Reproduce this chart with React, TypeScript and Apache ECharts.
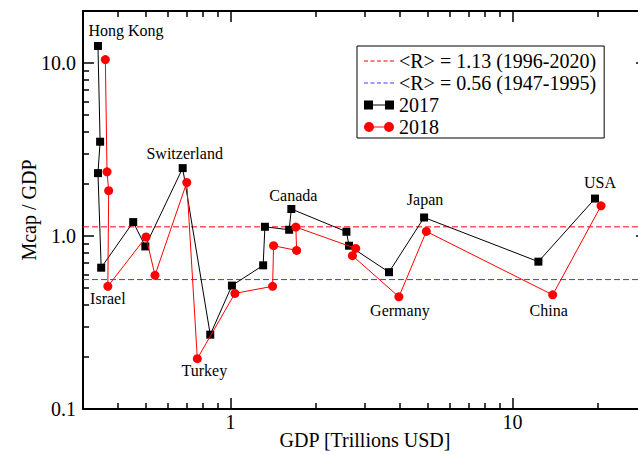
import React, { useEffect, useRef } from 'react';
import * as echarts from 'echarts';

// Countries in plotting order (only the annotated ones carry a name on the chart)
const countries = [
  'Hong Kong', '', '', 'Israel', '', '', 'Switzerland', 'Turkey', '', '', '',
  '', 'Canada', '', '', 'Germany', 'Japan', 'China', 'USA',
];

// GDP in trillions of USD and stock-market capitalisation / GDP
const gdp2017 = [0.339, 0.345, 0.339, 0.348, 0.452, 0.499, 0.677, 0.848, 1.012, 1.306, 1.325, 1.615, 1.644, 2.578, 2.633, 3.649, 4.86, 12.36, 19.62];
const ratio2017 = [12.55, 3.51, 2.31, 0.656, 1.204, 0.871, 2.47, 0.269, 0.517, 0.677, 1.131, 1.087, 1.433, 1.059, 0.879, 0.618, 1.28, 0.711, 1.647];
const gdp2018 = [0.36, 0.365, 0.37, 0.3675, 0.502, 0.54, 0.7, 0.763, 1.037, 1.411, 1.422, 1.716, 1.706, 2.781, 2.707, 3.956, 4.949, 13.89, 20.61];
const ratio2018 = [10.48, 2.35, 1.83, 0.512, 0.987, 0.593, 2.04, 0.1955, 0.466, 0.512, 0.879, 0.826, 1.127, 0.848, 0.77, 0.445, 1.063, 0.457, 1.495];

// Long-run averages of the ratio
const meanRecent = 1.13;
const meanEarly = 0.56;

const seriesNames = ['<R> = 1.13 (1996-2020)', '<R> = 0.56 (1947-1995)', '2017', '2018'];

// Axis ranges and tick marks
const xRange = [0.3, 30];
const yRange = [0.1, 20];
const xMajorTicks = [1, 10];
const xMinorTicks = [0.4, 0.5, 0.6, 0.7, 0.8, 0.9, 2, 3, 4, 5, 6, 7, 8, 9, 20];
const yMajorTicks = [0.1, 1, 10];
const yMinorTicks = [0.2, 0.3, 0.4, 0.5, 0.6, 0.7, 0.8, 0.9, 2, 3, 4, 5, 6, 7, 8, 9];

// Where each country annotation sits relative to its marker
const labelPlacement: Record<string, { year: string; offset: [number, number] }> = {
  'Hong Kong': { year: '2017', offset: [28, -16] },
  Switzerland: { year: '2017', offset: [2, -15] },
  Canada: { year: '2017', offset: [2, -14] },
  Japan: { year: '2017', offset: [1, -18] },
  USA: { year: '2017', offset: [5, -16] },
  Israel: { year: '2018', offset: [0, 12] },
  Turkey: { year: '2018', offset: [7, 12] },
  Germany: { year: '2018', offset: [1, 14] },
  China: { year: '2018', offset: [-4, 16] },
};

const FONT = 'Liberation Serif';

// Legend glyphs: dashed line, and line with a marker at each end
const dashIcon = 'path://M0,0h4v1h-4z M6.5,0h4v1h-4z M13,0h4v1h-4z M19.5,0h4v1h-4z M26,0h4v1h-4z';
const squaresIcon = 'path://M0,0.5h9v9h-9z M9,4.5h12v1h-12z M21,0.5h9v9h-9z';
const circlesIcon =
  'path://M0,5a5,5 0 1,0 10,0a5,5 0 1,0 -10,0z M10,4.5h10v1h-10z M20,5a5,5 0 1,0 10,0a5,5 0 1,0 -10,0z';

function buildPoints(gdp: number[], ratio: number[], year: string) {
  return gdp.map((g, i) => {
    const name = countries[i];
    const place = name ? labelPlacement[name] : undefined;
    const item: any = { value: [g, ratio[i]] };
    if (place && place.year === year) {
      item.label = {
        show: true,
        position: 'inside',
        offset: place.offset,
        formatter: name,
        color: '#000',
        fontSize: 16,
        fontFamily: FONT,
      };
    }
    return item;
  });
}

function isPowerOfTen(v: number) {
  const l = Math.log10(v);
  return Math.abs(l - Math.round(l)) < 1e-6;
}

// Linear helper axes in log10 space that only draw tick marks
function tickAxis(
  position: string,
  range: number[],
  ticks: number[],
  length: number,
  showLine: boolean
) {
  return {
    type: 'value',
    position,
    min: Math.log10(range[0]),
    max: Math.log10(range[1]),
    axisLine: { show: showLine, onZero: false, lineStyle: { color: '#000', width: 2 } },
    axisLabel: { show: false },
    splitLine: { show: false },
    axisTick: {
      show: true,
      inside: true,
      length,
      customValues: ticks.map((t) => Math.log10(t)),
      lineStyle: { color: '#000', width: 1.5 },
    },
  };
}

export default function App() {
  const ref = useRef<HTMLDivElement>(null);

  useEffect(() => {
    if (!ref.current) return;
    const chart = echarts.init(ref.current, null, { renderer: 'svg' });

    const option: any = {
      animation: false,
      backgroundColor: '#fff',
      textStyle: { fontFamily: FONT },
      grid: {
        left: 83,
        right: -9,
        top: 11,
        bottom: 45,
        containLabel: false,
        outerBoundsMode: 'none',
      },
      legend: {
        left: 357,
        top: 46,
        orient: 'vertical',
        selectedMode: false,
        borderColor: '#000',
        borderWidth: 1,
        borderRadius: 0,
        padding: [5, 8, 1, 7],
        itemGap: 2,
        itemWidth: 30,
        itemHeight: 10,
        textStyle: { fontSize: 20, color: '#000', fontFamily: FONT, lineHeight: 20 },
        data: [
          { name: seriesNames[0], icon: dashIcon },
          { name: seriesNames[1], icon: dashIcon },
          { name: seriesNames[2], icon: squaresIcon },
          { name: seriesNames[3], icon: circlesIcon },
        ],
      },
      xAxis: [
        {
          type: 'log',
          logBase: 10,
          min: xRange[0],
          max: xRange[1],
          position: 'bottom',
          axisLine: { show: true, onZero: false, lineStyle: { color: '#000', width: 2 } },
          axisTick: { show: false },
          splitLine: { show: false },
          axisLabel: {
            formatter: (v: number) => (isPowerOfTen(v) ? String(Math.round(v)) : ''),
            fontSize: 20,
            color: '#000',
            fontFamily: FONT,
            margin: 3,
          },
          name: 'GDP [Trillions USD]',
          nameLocation: 'middle',
          nameGap: 21,
          nameMoveOverlap: false,
          nameTextStyle: { fontSize: 20, color: '#000', fontFamily: FONT },
        },
        tickAxis('bottom', xRange, xMajorTicks, 11, false),
        tickAxis('bottom', xRange, xMinorTicks, 6, false),
        tickAxis('top', xRange, xMajorTicks, 11, true),
        tickAxis('top', xRange, xMinorTicks, 6, false),
      ],
      yAxis: [
        {
          type: 'log',
          logBase: 10,
          min: yRange[0],
          max: yRange[1],
          position: 'left',
          axisLine: { show: true, onZero: false, lineStyle: { color: '#000', width: 2 } },
          axisTick: { show: false },
          splitLine: { show: false },
          axisLabel: {
            formatter: (v: number) => (isPowerOfTen(v) ? v.toFixed(1) : ''),
            fontSize: 20,
            color: '#000',
            fontFamily: FONT,
            margin: 7,
          },
          name: 'Mcap / GDP',
          nameLocation: 'middle',
          nameGap: 44,
          nameMoveOverlap: false,
          nameTextStyle: { fontSize: 20, color: '#000', fontFamily: FONT },
        },
        tickAxis('left', yRange, yMajorTicks, 11, false),
        tickAxis('left', yRange, yMinorTicks, 6, false),
        tickAxis('right', yRange, yMajorTicks, 11, true),
        tickAxis('right', yRange, yMinorTicks, 6, false),
      ],
      series: [
        {
          name: seriesNames[0],
          type: 'line',
          xAxisIndex: 0,
          yAxisIndex: 0,
          symbol: 'none',
          silent: true,
          color: '#ff0000',
          lineStyle: { color: '#ff0000', width: 1, type: [6, 3] },
          data: [
            [xRange[0], meanRecent],
            [xRange[1], meanRecent],
          ],
          z: 1,
        },
        {
          name: seriesNames[1],
          type: 'line',
          xAxisIndex: 0,
          yAxisIndex: 0,
          symbol: 'none',
          silent: true,
          color: '#3a3aff',
          lineStyle: { color: '#3a3aff', width: 1, type: [6, 3] },
          data: [
            [xRange[0], meanEarly],
            [xRange[1], meanEarly],
          ],
          z: 1,
        },
        {
          name: seriesNames[2],
          type: 'line',
          xAxisIndex: 0,
          yAxisIndex: 0,
          symbol: 'rect',
          symbolSize: 8,
          color: '#000',
          itemStyle: { color: '#000' },
          lineStyle: { color: '#000', width: 1 },
          data: buildPoints(gdp2017, ratio2017, '2017'),
          z: 2,
        },
        {
          name: seriesNames[3],
          type: 'line',
          xAxisIndex: 0,
          yAxisIndex: 0,
          symbol: 'circle',
          symbolSize: 9,
          color: '#ff0000',
          itemStyle: { color: '#ff0000' },
          lineStyle: { color: '#ff0000', width: 1 },
          data: buildPoints(gdp2018, ratio2018, '2018'),
          z: 3,
        },
      ],
    };

    chart.setOption(option);
    return () => chart.dispose();
  }, []);

  return (
    <div
      ref={ref}
      style={{ position: 'fixed', left: 0, top: 0, width: 638, height: 454, background: '#fff' }}
    />
  );
}
